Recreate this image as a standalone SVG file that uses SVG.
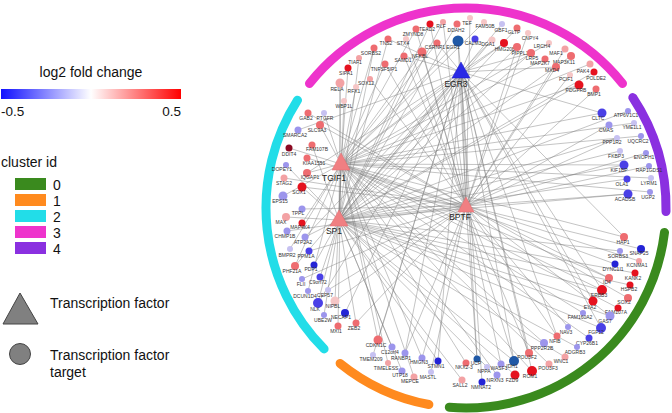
<svg xmlns="http://www.w3.org/2000/svg" width="672" height="413" viewBox="0 0 672 413">
<style>
text{font-family:"Liberation Sans",Arial,sans-serif;}
.lg{font-size:14px;fill:#111;}
.nl{font-size:5px;fill:#333;text-anchor:middle;}
.hl{font-size:8.5px;fill:#222;text-anchor:middle;}
.arc{fill:none;stroke-width:9;stroke-linecap:round;}
.e{fill:none;stroke:#7a7a7a;stroke-width:0.6;stroke-opacity:0.75;}
.r{fill:#e5121f;}.dr{fill:#8c0a22;}.p{fill:#ee6c70;}.lp{fill:#f3a2a4;}.vlp{fill:#f6c6c6;}
.lv{fill:#c6c1f1;}.v{fill:#9c95ec;}.b{fill:#4a40e6;}.db{fill:#2424d6;}.sb{fill:#1f58a6;}
.hub{fill:#f07f82;stroke:#e46a6e;stroke-width:0.5;}
</style>
<defs>
<linearGradient id="fc" x1="0" y1="0" x2="1" y2="0">
<stop offset="0" stop-color="#1010ff"/>
<stop offset="0.5" stop-color="#ffffff"/>
<stop offset="1" stop-color="#ff0000"/>
</linearGradient>
</defs>
<g id="legend">
<text class="lg" x="91" y="77" text-anchor="middle">log2 fold change</text>
<rect x="1" y="89" width="180" height="10" fill="url(#fc)"/>
<text class="lg" x="1" y="116" style="font-size:13.5px">-0.5</text>
<text class="lg" x="181" y="116" text-anchor="end" style="font-size:13.5px">0.5</text>
<text class="lg" x="1" y="167">cluster id</text>
<rect x="15" y="178" width="31" height="12" fill="#3a8a1e"/>
<rect x="15" y="194" width="31" height="12" fill="#ff8a1e"/>
<rect x="15" y="210" width="31" height="12" fill="#22dde8"/>
<rect x="15" y="226" width="31" height="12" fill="#ee33cc"/>
<rect x="15" y="242" width="31" height="12" fill="#8a30e0"/>
<text class="lg" x="53" y="190">0</text>
<text class="lg" x="53" y="206">1</text>
<text class="lg" x="53" y="222">2</text>
<text class="lg" x="53" y="238">3</text>
<text class="lg" x="53" y="254">4</text>
<polygon points="20,293 3,324 38,324" fill="#808080" stroke="#444" stroke-width="1"/>
<text class="lg" x="50" y="308">Transcription factor</text>
<circle cx="20" cy="354" r="10.5" fill="#808080" stroke="#444" stroke-width="1"/>
<text class="lg" x="50" y="360">Transcription factor</text>
<text class="lg" x="50" y="377">target</text>
</g>
<g id="clusters">
<path class="arc" stroke="#ee33cc" d="M 309.5 83.5 A 200 200 0 0 1 622.5 83.5"/>
<path class="arc" stroke="#8a30e0" d="M 632.8 97.6 A 200 200 0 0 1 666 211.5"/>
<path class="arc" stroke="#3a8a1e" d="M 664.5 232.4 A 200 200 0 0 1 449.3 407.3"/>
<path class="arc" stroke="#ff8a1e" d="M 428.9 404.5 A 200 200 0 0 1 340.1 363.4"/>
<path class="arc" stroke="#22dde8" d="M 324.1 348.9 A 200 200 0 0 1 297.5 100.2"/>
</g>
<g id="edges">
<path class="e" d="M341 164L339 220M341 164L466 206M339 220L466 206M461 72L341 164M461 72L339 220M461 72L466 206"/>
<path class="e" d="M341 164L416 29M341 164L374 48M341 164L422 52M341 164L385 64M341 164L348 68M341 164L340 83M341 164L356 87M341 164L484 22M341 164L458 41M341 164L437 43M341 164L504 43M341 164L549 43M341 164L545 59M341 164L590 64M341 164L579 85M341 164L602 113M341 164L634 123M341 164L641 136M341 164L624 165M341 164L651 178M341 164L650 192M341 164L624 237M341 164L615 264M341 164L609 278M341 164L602 290M341 164L618 308M341 164L583 313M341 164L589 338M341 164L544 343M341 164L549 364M341 164L532 371M341 164L497 375M341 164L466 363M341 164L378 340M341 164L388 363M341 164L422 358M341 164L414 377M341 164L324 113M341 164L320 125M341 164L289 148M341 164L307 173M341 164L283 196M341 164L302 223M341 164L290 249M341 164L295 266M341 164L308 291M341 164L335 301M341 164L338 326"/>
<path class="e" d="M339 220L430 24M339 220L388 39M339 220L374 48M339 220L422 52M339 220L359 58M339 220L340 83M339 220L344 101M339 220L443 22M339 220L457 24M339 220L502 24M339 220L492 40M339 220L517 28M339 220L517 47M339 220L531 53M339 220L571 56M339 220L594 72M339 220L579 85M339 220L628 111M339 220L617 138M339 220L620 151M339 220L624 165M339 220L627 179M339 220L628 194M339 220L620 251M339 220L635 273M339 220L630 285M339 220L602 290M339 220L593 301M339 220L610 316M339 220L601 328M339 220L577 347M339 220L565 357M339 220L514 361M339 220L515 375M339 220L487 367M339 220L462 380M339 220L392 347M339 220L402 371M339 220L438 361M339 220L312 145M339 220L286 165M339 220L302 187M339 220L286 217M339 220L305 237M339 220L314 265M339 220L320 277M339 220L318 303M339 220L324 315M339 220L356 323"/>
<path class="e" d="M466 206L430 24M466 206L416 29M466 206L406 39M466 206L404 56M466 206L422 52M466 206L385 64M466 206L370 79M466 206L443 22M466 206L470 18M466 206L458 41M466 206L528 33M466 206L517 47M466 206L565 49M466 206L556 67M466 206L570 75M466 206L596 89M466 206L609 125M466 206L617 138M466 206L646 153M466 206L649 166M466 206L628 194M466 206L641 249M466 206L639 261M466 206L609 278M466 206L628 298M466 206L610 316M466 206L568 327M466 206L557 336M466 206L529 353M466 206L514 361M466 206L501 364M466 206L477 359M466 206L405 353M466 206L422 358M466 206L431 372M466 206L308 113M466 206L320 125M466 206L307 158M466 206L284 178M466 206L302 187M466 206L302 209M466 206L287 231M466 206L309 251M466 206L302 279M466 206L328 290M466 206L335 301M466 206L356 323"/>
<path class="e" d="M461 72L388 39M461 72L404 56M461 72L458 41M461 72L475 39M461 72L492 40M461 72L437 43M461 72L504 43M461 72L531 53M461 72L556 67M461 72L602 113M461 72L624 237M461 72L602 290M461 72L593 301M461 72L601 328M461 72L557 336M461 72L529 353M461 72L514 361M461 72L532 371M461 72L477 359M461 72L482 382M461 72L378 340M461 72L373 355M461 72L405 353M461 72L438 361M461 72L298 130M461 72L307 173M461 72L305 237M461 72L295 266M461 72L318 303M461 72L345 313"/>
</g>
<g id="nodes">
<g id="n_TEAD2"><circle class="r" cx="430" cy="24" r="3.5"/><text class="nl" x="427" y="31">TEAD2</text></g>
<g id="n_ZMYND8"><circle class="p" cx="416" cy="29" r="3.5"/><text class="nl" x="413" y="36">ZMYND8</text></g>
<g id="n_TNS2"><circle class="p" cx="388" cy="39" r="3.5"/><text class="nl" x="386" y="45">TNS2</text></g>
<g id="n_STX4"><circle class="vlp" cx="406" cy="39" r="3"/><text class="nl" x="403" y="45">STX4</text></g>
<g id="n_SORBS2"><circle class="p" cx="374" cy="48" r="3.5"/><text class="nl" x="371" y="55">SORBS2</text></g>
<g id="n_SAMD1"><circle class="p" cx="404" cy="56" r="3.5"/><text class="nl" x="403" y="62">SAMD1</text></g>
<g id="n_NFKBL"><circle class="p" cx="422" cy="52" r="4.5"/><text class="nl" x="420" y="58">NFKBL</text></g>
<g id="n_TIAF1"><circle class="lp" cx="359" cy="58" r="3"/><text class="nl" x="355" y="64">TIAF1</text></g>
<g id="n_TNFSF5IP1"><circle class="p" cx="385" cy="64" r="3.5"/><text class="nl" x="384" y="71">TNFSF5IP1</text></g>
<g id="n_SIPA1"><circle class="r" cx="348" cy="68" r="3.5"/><text class="nl" x="346" y="75">SIPA1</text></g>
<g id="n_RELA"><circle class="lp" cx="340" cy="83" r="4.5"/><text class="nl" x="337" y="91">RELA</text></g>
<g id="n_SOX12"><circle class="lp" cx="370" cy="79" r="3"/><text class="nl" x="366" y="85">SOX12</text></g>
<g id="n_RFX1"><circle class="vlp" cx="356" cy="87" r="3"/><text class="nl" x="354" y="93">RFX1</text></g>
<g id="n_WBP1L"><circle class="vlp" cx="344" cy="101" r="3"/><text class="nl" x="344" y="108">WBP1L</text></g>
<g id="n_RLF"><circle class="lp" cx="443" cy="22" r="3"/><text class="nl" x="441" y="28">RLF</text></g>
<g id="n_DDAH2"><circle class="p" cx="457" cy="24" r="3.5"/><text class="nl" x="456" y="32">DDAH2</text></g>
<g id="n_TEF"><circle class="vlp" cx="470" cy="18" r="3"/><text class="nl" x="467" y="25">TEF</text></g>
<g id="n_FAM50B"><circle class="vlp" cx="484" cy="22" r="3"/><text class="nl" x="485" y="28">FAM50B</text></g>
<g id="n_GBF1"><circle class="lv" cx="502" cy="24" r="3"/><text class="nl" x="501" y="32">GBF1</text></g>
<g id="n_EGR1"><circle class="sb" cx="458" cy="41" r="5.5"/><text class="nl" x="453" y="49">EGR1</text></g>
<g id="n_CALM3"><circle class="b" cx="475" cy="39" r="3.5"/><text class="nl" x="473" y="45">CALM3</text></g>
<g id="n_DGA1"><circle class="vlp" cx="492" cy="40" r="3.5"/><text class="nl" x="488" y="46">DGA1</text></g>
<g id="n_CSRNP1"><circle class="p" cx="437" cy="43" r="3.5"/><text class="nl" x="435" y="49">CSRNP1</text></g>
<g id="n_GLTP"><circle class="p" cx="517" cy="28" r="3.5"/><text class="nl" x="514" y="34">GLTP</text></g>
<g id="n_CNPY4"><circle class="vlp" cx="528" cy="33" r="3"/><text class="nl" x="530" y="40">CNPY4</text></g>
<g id="n_HMG20B"><circle class="r" cx="504" cy="43" r="4"/><text class="nl" x="505" y="50.5">HMG20B</text></g>
<g id="n_PIPPL1"><circle class="p" cx="517" cy="47" r="4"/><text class="nl" x="520" y="55">PIPPL1</text></g>
<g id="n_LRCH4"><circle class="vlp" cx="549" cy="43" r="3"/><text class="nl" x="542" y="48">LRCH4</text></g>
<g id="n_LRP5"><circle class="p" cx="531" cy="53" r="4"/><text class="nl" x="532" y="60">LRP5</text></g>
<g id="n_MAF1"><circle class="lp" cx="565" cy="49" r="3.5"/><text class="nl" x="556" y="55">MAF1</text></g>
<g id="n_MAP2K7"><circle class="p" cx="545" cy="59" r="3.5"/><text class="nl" x="540" y="65">MAP2K7</text></g>
<g id="n_MAP3K11"><circle class="p" cx="571" cy="56" r="4"/><text class="nl" x="564" y="64">MAP3K11</text></g>
<g id="n_MXD4"><circle class="p" cx="556" cy="67" r="4"/><text class="nl" x="552" y="72">MXD4</text></g>
<g id="n_PAK4"><circle class="lp" cx="590" cy="64" r="3.5"/><text class="nl" x="583" y="73">PAK4</text></g>
<g id="n_POLDE2"><circle class="r" cx="594" cy="72" r="3.5"/><text class="nl" x="596" y="80">POLDE2</text></g>
<g id="n_PCIF1"><circle class="vlp" cx="570" cy="75" r="3"/><text class="nl" x="566" y="81">PCIF1</text></g>
<g id="n_PDGFRB"><circle class="r" cx="579" cy="85" r="4.5"/><text class="nl" x="576" y="92">PDGFRB</text></g>
<g id="n_BMP1"><circle class="p" cx="596" cy="89" r="3.5"/><text class="nl" x="594" y="96">BMP1</text></g>
<g id="n_CLTC"><circle class="b" cx="602" cy="113" r="4.5"/><text class="nl" x="598" y="120">CLTC</text></g>
<g id="n_ATP6V1C1"><circle class="v" cx="628" cy="111" r="3"/><text class="nl" x="626" y="117">ATP6V1C1</text></g>
<g id="n_CMAS"><circle class="v" cx="609" cy="125" r="3.5"/><text class="nl" x="606" y="132">CMAS</text></g>
<g id="n_YME1L1"><circle class="lv" cx="634" cy="123" r="3"/><text class="nl" x="632" y="129">YME1L1</text></g>
<g id="n_PPP1R2"><circle class="lv" cx="617" cy="138" r="3"/><text class="nl" x="612" y="144">PPP1R2</text></g>
<g id="n_UQCRC2"><circle class="v" cx="641" cy="136" r="3"/><text class="nl" x="638" y="143">UQCRC2</text></g>
<g id="n_FKBP3"><circle class="lv" cx="620" cy="151" r="3"/><text class="nl" x="616" y="158">FKBP3</text></g>
<g id="n_ENOPH1"><circle class="v" cx="646" cy="153" r="3"/><text class="nl" x="644" y="159">ENOPH1</text></g>
<g id="n_KIF1BP"><circle class="b" cx="624" cy="165" r="4.5"/><text class="nl" x="619" y="172">KIF1BP</text></g>
<g id="n_RAP1GDS1"><circle class="v" cx="649" cy="166" r="3"/><text class="nl" x="649" y="172">RAP1GDS1</text></g>
<g id="n_OLA1"><circle class="b" cx="627" cy="179" r="3.5"/><text class="nl" x="622" y="186">OLA1</text></g>
<g id="n_LYRM1"><circle class="lv" cx="651" cy="178" r="3"/><text class="nl" x="649" y="185">LYRM1</text></g>
<g id="n_ACADSB"><circle class="b" cx="628" cy="194" r="4.5"/><text class="nl" x="625" y="201">ACADSB</text></g>
<g id="n_UGP2"><circle class="v" cx="650" cy="192" r="3"/><text class="nl" x="648" y="199">UGP2</text></g>
<g id="n_HAP1"><circle class="p" cx="624" cy="237" r="4"/><text class="nl" x="623" y="244">HAP1</text></g>
<g id="n_SNAP25"><circle class="db" cx="641" cy="249" r="4"/><text class="nl" x="639" y="255">SNAP25</text></g>
<g id="n_SORBS3"><circle class="v" cx="620" cy="251" r="3"/><text class="nl" x="618" y="258">SORBS3</text></g>
<g id="n_DYNC1I1"><circle class="db" cx="615" cy="264" r="3.5"/><text class="nl" x="613" y="271">DYNC1I1</text></g>
<g id="n_KCNMA1"><circle class="lp" cx="639" cy="261" r="3"/><text class="nl" x="637" y="267">KCNMA1</text></g>
<g id="n_KANK2"><circle class="r" cx="635" cy="273" r="3.5"/><text class="nl" x="633" y="280">KANK2</text></g>
<g id="n_ID4"><circle class="p" cx="609" cy="278" r="4"/><text class="nl" x="607" y="284">ID4</text></g>
<g id="n_HSPB2"><circle class="r" cx="630" cy="285" r="3.5"/><text class="nl" x="629" y="291">HSPB2</text></g>
<g id="n_ERBB3"><circle class="r" cx="602" cy="290" r="5"/><text class="nl" x="599" y="297">ERBB3</text></g>
<g id="n_SOX2"><circle class="p" cx="628" cy="298" r="4"/><text class="nl" x="624" y="304">SOX2</text></g>
<g id="n_EYA2"><circle class="r" cx="593" cy="301" r="4.5"/><text class="nl" x="590" y="309">EYA2</text></g>
<g id="n_FAM107A"><circle class="r" cx="618" cy="308" r="3.5"/><text class="nl" x="616" y="314">FAM107A</text></g>
<g id="n_GAS7"><circle class="v" cx="610" cy="316" r="4.5"/><text class="nl" x="605" y="323">GAS7</text></g>
<g id="n_FAM160A2"><circle class="v" cx="583" cy="313" r="3"/><text class="nl" x="580" y="319">FAM160A2</text></g>
<g id="n_FGF12"><circle class="b" cx="601" cy="328" r="5"/><text class="nl" x="596" y="334">FGF12</text></g>
<g id="n_NAV3"><circle class="v" cx="568" cy="327" r="3"/><text class="nl" x="566" y="334">NAV3</text></g>
<g id="n_CYP26B1"><circle class="b" cx="589" cy="338" r="3.5"/><text class="nl" x="587" y="345">CYP26B1</text></g>
<g id="n_ADGRB3"><circle class="v" cx="577" cy="347" r="3"/><text class="nl" x="575" y="354">ADGRB3</text></g>
<g id="n_NFIB"><circle class="p" cx="557" cy="336" r="3.5"/><text class="nl" x="555" y="343">NFIB</text></g>
<g id="n_PPP2R2B"><circle class="v" cx="544" cy="343" r="4"/><text class="nl" x="542" y="350">PPP2R2B</text></g>
<g id="n_WNC1"><circle class="lp" cx="565" cy="357" r="3.5"/><text class="nl" x="561" y="363">WNC1</text></g>
<g id="n_POU3F2"><circle class="p" cx="529" cy="353" r="4"/><text class="nl" x="527" y="359">POU3F2</text></g>
<g id="n_POU3F3"><circle class="lp" cx="549" cy="364" r="3.5"/><text class="nl" x="548" y="370">POU3F3</text></g>
<g id="n_IDH1"><circle class="sb" cx="514" cy="361" r="5"/><text class="nl" x="512" y="368">IDH1</text></g>
<g id="n_ROM1"><circle class="r" cx="532" cy="371" r="5"/><text class="nl" x="530" y="378">ROM1</text></g>
<g id="n_FZD9"><circle class="r" cx="515" cy="375" r="4.5"/><text class="nl" x="512" y="382">FZD9</text></g>
<g id="n_WASF1"><circle class="v" cx="501" cy="364" r="3.5"/><text class="nl" x="499" y="370">WASF1</text></g>
<g id="n_NRXN3"><circle class="v" cx="497" cy="375" r="3.5"/><text class="nl" x="495" y="382">NRXN3</text></g>
<g id="n_NPPA"><circle class="lv" cx="487" cy="367" r="3"/><text class="nl" x="484" y="373">NPPA</text></g>
<g id="n_UCP"><circle class="sb" cx="477" cy="359" r="3.5"/><text class="nl" x="476" y="365">UCP</text></g>
<g id="n_NKX2-3"><circle class="p" cx="466" cy="363" r="3.5"/><text class="nl" x="464" y="369">NKX2-3</text></g>
<g id="n_SALL2"><circle class="lp" cx="462" cy="380" r="3.5"/><text class="nl" x="460" y="387">SALL2</text></g>
<g id="n_NMNAT2"><circle class="db" cx="482" cy="382" r="3.5"/><text class="nl" x="481" y="389">NMNAT2</text></g>
<g id="n_CDKN1C"><circle class="p" cx="378" cy="340" r="4.5"/><text class="nl" x="376" y="347">CDKN1C</text></g>
<g id="n_C12orf4"><circle class="v" cx="392" cy="347" r="3.5"/><text class="nl" x="390" y="354">C12orf4</text></g>
<g id="n_TMEM209"><circle class="lv" cx="373" cy="355" r="3"/><text class="nl" x="371" y="361">TMEM209</text></g>
<g id="n_RANBP1"><circle class="v" cx="405" cy="353" r="3.5"/><text class="nl" x="401" y="360">RANBP1</text></g>
<g id="n_TIMELESS"><circle class="lp" cx="388" cy="363" r="3"/><text class="nl" x="386" y="370">TIMELESS</text></g>
<g id="n_UTP18"><circle class="v" cx="402" cy="371" r="3.5"/><text class="nl" x="400" y="377">UTP18</text></g>
<g id="n_HMGN3"><circle class="v" cx="422" cy="358" r="3.5"/><text class="nl" x="419" y="364">HMGN3</text></g>
<g id="n_STMN1"><circle class="db" cx="438" cy="361" r="3.5"/><text class="nl" x="436" y="368">STMN1</text></g>
<g id="n_MEPCE"><circle class="lp" cx="414" cy="377" r="3.5"/><text class="nl" x="410" y="383">MEPCE</text></g>
<g id="n_MASTL"><circle class="lv" cx="431" cy="372" r="3"/><text class="nl" x="428" y="379">MASTL</text></g>
<g id="n_GAB2"><circle class="p" cx="308" cy="113" r="3.5"/><text class="nl" x="306" y="120">GAB2</text></g>
<g id="n_PTGFR"><circle class="lv" cx="324" cy="113" r="3"/><text class="nl" x="325" y="120">PTGFR</text></g>
<g id="n_SMARCA2"><circle class="v" cx="298" cy="130" r="3.5"/><text class="nl" x="295" y="137">SMARCA2</text></g>
<g id="n_SLC9A3"><circle class="p" cx="320" cy="125" r="4"/><text class="nl" x="317" y="132">SLC9A3</text></g>
<g id="n_FAM107B"><circle class="p" cx="312" cy="145" r="3.5"/><text class="nl" x="317" y="151">FAM107B</text></g>
<g id="n_DDIT4"><circle class="dr" cx="289" cy="148" r="3.5"/><text class="nl" x="289" y="156">DDIT4</text></g>
<g id="n_KIAA1551"><circle class="p" cx="307" cy="158" r="3.5"/><text class="nl" x="314" y="165">KIAA1551</text></g>
<g id="n_DOPEY1"><circle class="v" cx="286" cy="165" r="3"/><text class="nl" x="282" y="171">DOPEY1</text></g>
<g id="n_IQGAP1"><circle class="p" cx="307" cy="173" r="4"/><text class="nl" x="310" y="179">IQGAP1</text></g>
<g id="n_STAG2"><circle class="lp" cx="284" cy="178" r="3.5"/><text class="nl" x="284" y="185">STAG2</text></g>
<g id="n_SOX1"><circle class="r" cx="302" cy="187" r="4.5"/><text class="nl" x="299" y="194">SOX1</text></g>
<g id="n_EPS15"><circle class="v" cx="283" cy="196" r="4.5"/><text class="nl" x="280" y="203">EPS15</text></g>
<g id="n_TPPL"><circle class="v" cx="302" cy="209" r="3.5"/><text class="nl" x="298" y="215">TPPL</text></g>
<g id="n_MAX"><circle class="lp" cx="286" cy="217" r="4"/><text class="nl" x="281" y="224">MAX</text></g>
<g id="n_MAP4K4"><circle class="r" cx="302" cy="223" r="3.5"/><text class="nl" x="300" y="229">MAP4K4</text></g>
<g id="n_CHMP1B"><circle class="v" cx="287" cy="231" r="3.5"/><text class="nl" x="285" y="238">CHMP1B</text></g>
<g id="n_ATP2A2"><circle class="v" cx="305" cy="237" r="3.5"/><text class="nl" x="303" y="244">ATP2A2</text></g>
<g id="n_BMPR2"><circle class="lv" cx="290" cy="249" r="3"/><text class="nl" x="287" y="257">BMPR2</text></g>
<g id="n_PPM1A"><circle class="b" cx="309" cy="251" r="3.5"/><text class="nl" x="306" y="258">PPM1A</text></g>
<g id="n_PDP1"><circle class="db" cx="314" cy="265" r="3.5"/><text class="nl" x="311" y="271">PDP1</text></g>
<g id="n_PHF21A"><circle class="p" cx="295" cy="266" r="4"/><text class="nl" x="292" y="273">PHF21A</text></g>
<g id="n_FLII"><circle class="v" cx="302" cy="279" r="3"/><text class="nl" x="301" y="286">FLII</text></g>
<g id="n_C9orf72"><circle class="b" cx="320" cy="277" r="3.5"/><text class="nl" x="318" y="284">C9orf72</text></g>
<g id="n_DCUN1D4"><circle class="v" cx="308" cy="291" r="3"/><text class="nl" x="305" y="298">DCUN1D4</text></g>
<g id="n_CEP57"><circle class="lv" cx="328" cy="290" r="3"/><text class="nl" x="325" y="297">CEP57</text></g>
<g id="n_NLK"><circle class="b" cx="318" cy="303" r="5"/><text class="nl" x="315" y="311">NLK</text></g>
<g id="n_NIPBL"><circle class="vlp" cx="335" cy="301" r="4.5"/><text class="nl" x="333" y="308">NIPBL</text></g>
<g id="n_UBE2W"><circle class="v" cx="324" cy="315" r="3"/><text class="nl" x="323" y="322">UBE2W</text></g>
<g id="n_NECAP1"><circle class="db" cx="345" cy="313" r="4"/><text class="nl" x="341" y="319">NECAP1</text></g>
<g id="n_MXI1"><circle class="p" cx="338" cy="326" r="3.5"/><text class="nl" x="336" y="333">MXI1</text></g>
<g id="n_ZEB2"><circle class="p" cx="356" cy="323" r="3.5"/><text class="nl" x="354" y="330">ZEB2</text></g>
</g>
<g id="hubs">
<g id="h_TGIF1"><polygon class="hub" points="341,153 332,170 350,170"/><text class="hl" x="334" y="181">TGIF1</text></g>
<g id="h_SP1"><polygon class="hub" points="339,210 330,226 348,226"/><text class="hl" x="334" y="234">SP1</text></g>
<g id="h_BPTF"><polygon class="hub" points="466,197 458,212 474,212"/><text class="hl" x="460" y="220">BPTF</text></g>
<g id="h_EGR3"><polygon points="461,62 452,78 470,78" fill="#2a2ae6" stroke="#1a1ac0" stroke-width="0.5"/><text class="hl" x="456" y="87">EGR3</text></g>
</g>
</svg>
